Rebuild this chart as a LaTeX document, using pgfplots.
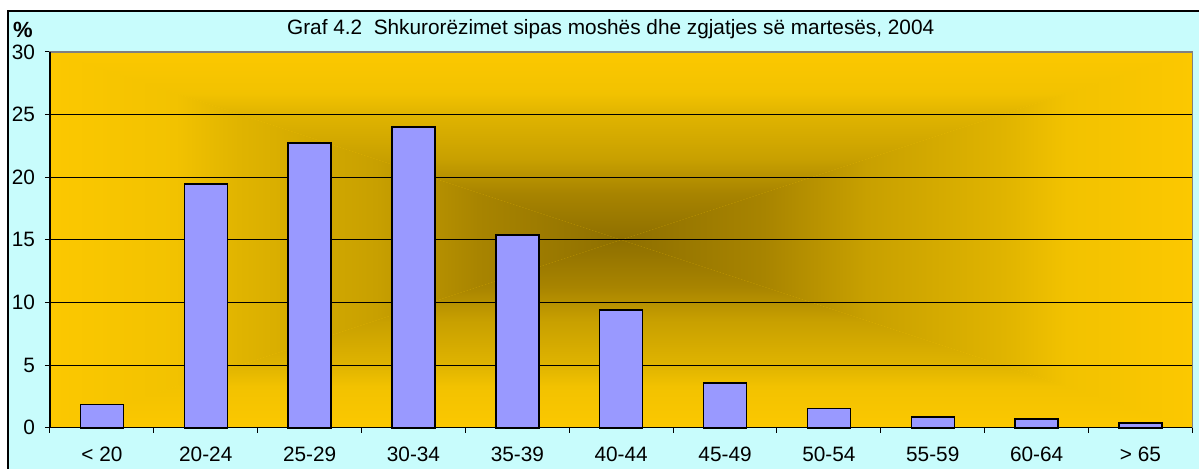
\documentclass[border=0pt]{standalone}
\usepackage{pgfplots}
\pgfplotsset{compat=1.18}
\usepackage{fontspec}
\setmainfont{Liberation Sans}
\definecolor{gold}{HTML}{FCC800}
\definecolor{darkc}{HTML}{8E6F00}
\definecolor{ca}{HTML}{A88400}
\definecolor{cb}{HTML}{C8A000}
\definecolor{cc}{HTML}{E0B400}
\definecolor{cd}{HTML}{F2C200}
\definecolor{cyanbg}{HTML}{C8FCFC}
\definecolor{barc}{HTML}{9999FF}
\pgfdeclareverticalshading{rectgrad}{100bp}{color(0bp)=(darkc); color(25bp)=(darkc); color(37.5bp)=(ca); color(46.5bp)=(cb); color(58.5bp)=(cc); color(64bp)=(cd); color(75bp)=(gold); color(100bp)=(gold)}
\begin{document}
\begin{tikzpicture}
\begin{axis}[
  at={(25pt,20.5pt)}, anchor=south west,
  scale only axis, width=571.5pt, height=188pt,
  set layers, clip=false,
  ybar, bar width=21.5pt,
  xmin=-0.5, xmax=10.5, ymin=0, ymax=30,
  ytick={0,5,...,30},
  xtick={0,...,10},
  xticklabels={{< 20},20-24,25-29,30-34,35-39,40-44,45-49,50-54,55-59,60-64,{> 65}},
  minor xtick={-0.5,0.5,...,10.5},
  xtick pos=bottom, ytick pos=left,
  tick align=outside,
  major tick length=2.5pt, minor tick length=2.5pt,
  major x tick style={draw=none},
  minor x tick style={black, line width=0.5pt},
  ytick style={black, line width=0.5pt},
  ymajorgrids, grid style={black, line width=0.5pt},
  axis line style={draw=gray, line width=0.6pt},
  tick label style={font=\fontsize{10.4}{12}\selectfont},
  /pgf/number format/assume math mode=true,
  xticklabel style={anchor=base, yshift=-14.6pt},
  yticklabel style={xshift=-1.5pt},
]
\begin{pgfonlayer}{axis background}
\fill[white] ([shift={(-25pt,-20.5pt)}]rel axis cs:0,0) rectangle ++(600pt,234.5pt);
\fill[cyanbg] ([shift={(-21pt,-20.5pt)}]rel axis cs:0,0) rectangle ++(596pt,229pt);
\draw[black, line width=0.6pt] ([shift={(-21pt,-20.5pt)}]rel axis cs:0,0) -- ++(0pt,229pt) -- ++(596pt,0pt);
\fill[gold] (rel axis cs:0,0) rectangle (rel axis cs:1,1);
\shade[shading=rectgrad, shading angle=0] (rel axis cs:0,1) -- (rel axis cs:1,1) -- (rel axis cs:0.5,0.5) -- cycle;
\shade[shading=rectgrad, shading angle=180] (rel axis cs:0,0) -- (rel axis cs:1,0) -- (rel axis cs:0.5,0.5) -- cycle;
\shade[shading=rectgrad, shading angle=90] (rel axis cs:0,0) -- (rel axis cs:0,1) -- (rel axis cs:0.5,0.5) -- cycle;
\shade[shading=rectgrad, shading angle=270] (rel axis cs:1,0) -- (rel axis cs:1,1) -- (rel axis cs:0.5,0.5) -- cycle;
\end{pgfonlayer}
\addplot[fill=barc, draw=black, line width=0.75pt] coordinates {(0,1.84)(1,19.45)(2,22.75)(3,24.0)(4,15.4)(5,9.42)(6,3.57)(7,1.55)(8,0.85)(9,0.7)(10,0.4)};
\draw[black, line width=0.6pt] (rel axis cs:0,1) -- (rel axis cs:0,0) -- (rel axis cs:1,0);
\node[font=\fontsize{10.4}{12}\selectfont, anchor=base, inner sep=0pt] at ([shift={(280.5pt,196.8pt)}]rel axis cs:0,0) {Graf 4.2\ \ Shkurorëzimet sipas moshës dhe zgjatjes së martesës, 2004};
\node[font=\fontsize{11}{13}\selectfont\bfseries, inner sep=0pt] at ([shift={(-13.5pt,199pt)}]rel axis cs:0,0) {\%};
\end{axis}
\end{tikzpicture}
\end{document}
